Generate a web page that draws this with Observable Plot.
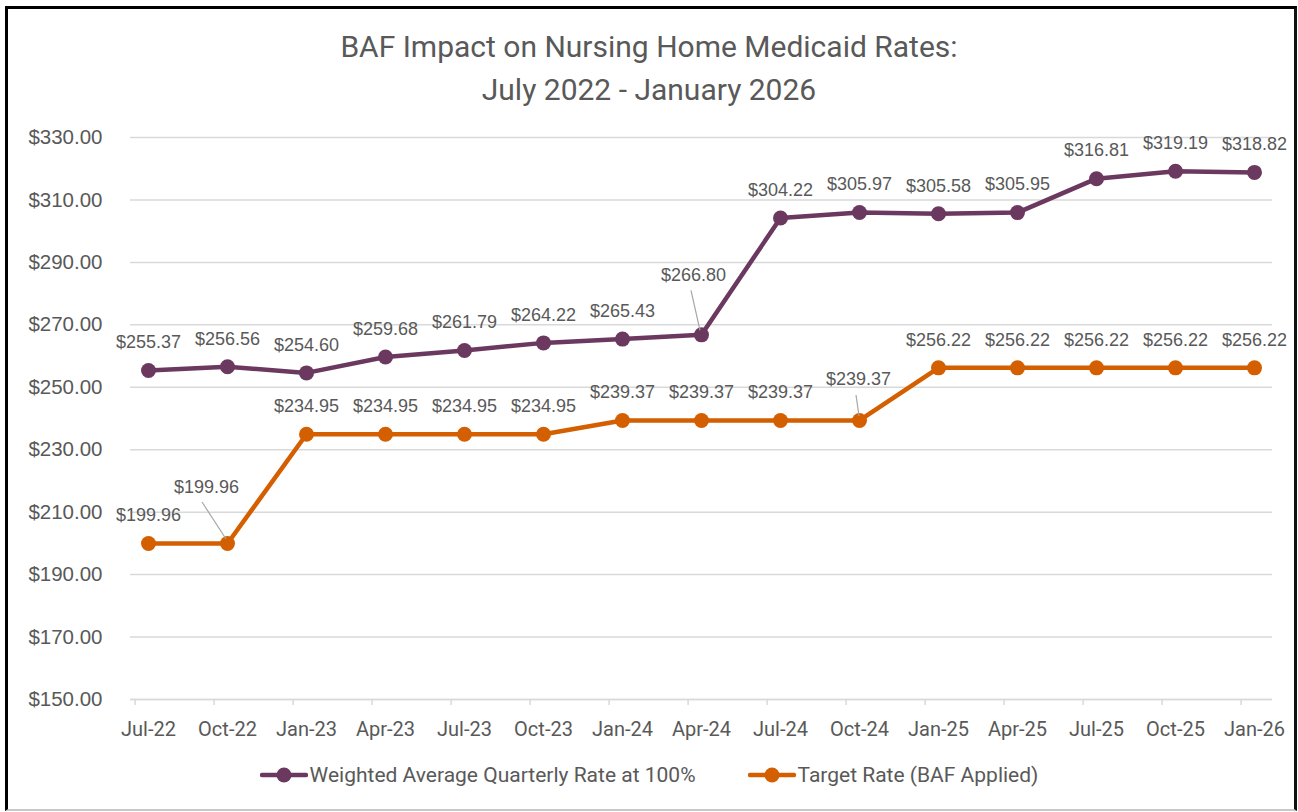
<!DOCTYPE html>
<html>
<head>
<meta charset="utf-8">
<script src="https://cdn.jsdelivr.net/npm/d3@7"></script>
<script src="https://cdn.jsdelivr.net/npm/@observablehq/plot@0.6"></script>
<style>
  html, body { margin: 0; padding: 0; background: #fff; }
  #wrap { position: relative; width: 1298px; height: 812px; overflow: hidden; background: #fff; }
  #frame { position: absolute; left: 5px; top: 6px; width: 1292px; height: 805px; box-sizing: border-box;
           border-top: 3px solid #000; border-left: 3px solid #000; border-right: 3px solid #111; border-bottom: 2px solid #c8c8c8; pointer-events: none; }
  #title { position: absolute; left: 0; top: 25px; width: 1298px; text-align: center; font-family: Roboto, sans-serif;
           font-size: 30px; line-height: 43px; color: #595959; }
  #chart { position: absolute; left: 0; top: 110px; }
  #legend { position: absolute; left: 0; top: 760px; width: 1298px; display: flex; justify-content: center; align-items: center;
            font-family: Roboto, sans-serif; font-size: 21px; color: #595959; line-height: 30px; }
  .item { display: flex; align-items: center; }
  .item svg { margin-right: 2px; }
</style>
</head>
<body>
<div id="wrap">
  <div id="title">BAF Impact on Nursing Home Medicaid Rates:<br>July 2022 - January 2026</div>
  <div id="chart"></div>
  <div id="legend"></div>
  <div id="frame"></div>
</div>
<script>
const quarters = ["Jul-22","Oct-22","Jan-23","Apr-23","Jul-23","Oct-23","Jan-24","Apr-24","Jul-24","Oct-24","Jan-25","Apr-25","Jul-25","Oct-25","Jan-26"];
const weightedRate = [255.37,256.56,254.60,259.68,261.79,264.22,265.43,266.80,304.22,305.97,305.58,305.95,316.81,319.19,318.82];
const targetRate = [199.96,199.96,234.95,234.95,234.95,234.95,239.37,239.37,239.37,239.37,256.22,256.22,256.22,256.22,256.22];
const seriesNames = ["Weighted Average Quarterly Rate at 100%", "Target Rate (BAF Applied)"];
const yTicks = [150,170,190,210,230,250,270,290,310,330];

const colors = ["#6B395F", "#D45F00"];
const fmt = d3.format("$.2f");

const rows = [];
[weightedRate, targetRate].forEach((vals, s) => {
  vals.forEach((v, i) => rows.push({q: quarters[i], v, s, i}));
});

// label callouts (series, index) -> offsets in px
const callouts = [
  {s: 0, i: 7, dx: -8, dy: -60, lx1: -10, ly1: -44, lx2: -1, ly2: -4},
  {s: 1, i: 1, dx: -21, dy: -56, lx1: -25, ly1: -41, lx2: -1, ly2: -4},
  {s: 1, i: 9, dx: -1, dy: -41, lx1: -3, ly1: -25, lx2: 0, ly2: -4}
];
const isCallout = d => callouts.some(c => c.s === d.s && c.i === d.i);

function leaderMark(index, scales, values, dimensions, context) {
  const sx = typeof scales.x === "function" ? scales.x : scales.scales.x;
  const sy = typeof scales.y === "function" ? scales.y : scales.scales.y;
  const g = d3.create("svg:g").attr("stroke", "#a6a6a6").attr("stroke-width", 1.2);
  callouts.forEach(c => {
    const v = c.s === 0 ? weightedRate[c.i] : targetRate[c.i];
    const px = sx(quarters[c.i]);
    const py = sy(v);
    g.append("line")
      .attr("x1", px + c.lx1).attr("y1", py + c.ly1)
      .attr("x2", px + c.lx2).attr("y2", py + c.ly2);
  });
  return g.node();
}

const marks = [
  Plot.gridY(yTicks, {stroke: "#d9d9d9", strokeOpacity: 1, strokeWidth: 1.5}),
  Plot.ruleY([150], {stroke: "#d9d9d9", strokeWidth: 1.5}),
  Plot.axisY(yTicks, {tickSize: 0, tickPadding: 28, tickFormat: fmt, fontSize: 20.5, fill: "#595959", label: null, fontFamily: "Liberation Sans"}),
  Plot.axisX(quarters, {tickSize: 6, dx: -13.4, tickFormat: () => "", stroke: "#d9d9d9", strokeWidth: 1.5, label: null}),
  Plot.axisX(quarters, {tickSize: 0, tickPadding: 22, fontSize: 20, fontFamily: "Roboto", fill: "#595959", label: null, style: "letter-spacing: 1px"})
];
[0, 1].forEach(s => {
  const data = rows.filter(d => d.s === s);
  marks.push(Plot.line(data, {x: "q", y: "v", stroke: colors[s], strokeWidth: 4.5, strokeLinejoin: "round", strokeLinecap: "round"}));
  marks.push(Plot.dot(data, {x: "q", y: "v", r: 7.5, fill: colors[s], stroke: "none"}));
});
marks.push(leaderMark);
marks.push(Plot.text(rows.filter(d => !isCallout(d)), {x: "q", y: "v", text: d => fmt(d.v), dy: -28, fontSize: 18, fill: "#595959", fontFamily: "Liberation Sans"}));
callouts.forEach(c => {
  marks.push(Plot.text(rows.filter(d => d.s === c.s && d.i === c.i), {x: "q", y: "v", text: d => fmt(d.v), dx: c.dx, dy: c.dy, fontSize: 18, fill: "#595959", fontFamily: "Liberation Sans"}));
});

const chart = Plot.plot({
  width: 1298,
  height: 640,
  marginLeft: 130,
  marginRight: 26,
  marginTop: 27,
  marginBottom: 51,
  x: {type: "point", domain: quarters, padding: 0, insetLeft: 13, insetRight: 14},
  y: {domain: [150, 330]},
  style: {background: "transparent", color: "#595959", fontFamily: "Liberation Sans", overflow: "visible"},
  marks
});
document.getElementById("chart").appendChild(chart);

// legend
const legend = document.getElementById("legend");
seriesNames.forEach((name, s) => {
  const item = document.createElement("div");
  item.className = "item";
  if (s === 1) item.style.marginLeft = "52px";
  item.innerHTML = `<svg width="48" height="20"><line x1="2" y1="10" x2="46" y2="10" stroke="${colors[s]}" stroke-width="4.5" stroke-linecap="round"/><circle cx="24" cy="10" r="7.5" fill="${colors[s]}"/></svg><span>${name}</span>`;
  legend.appendChild(item);
});
</script>
</body>
</html>
